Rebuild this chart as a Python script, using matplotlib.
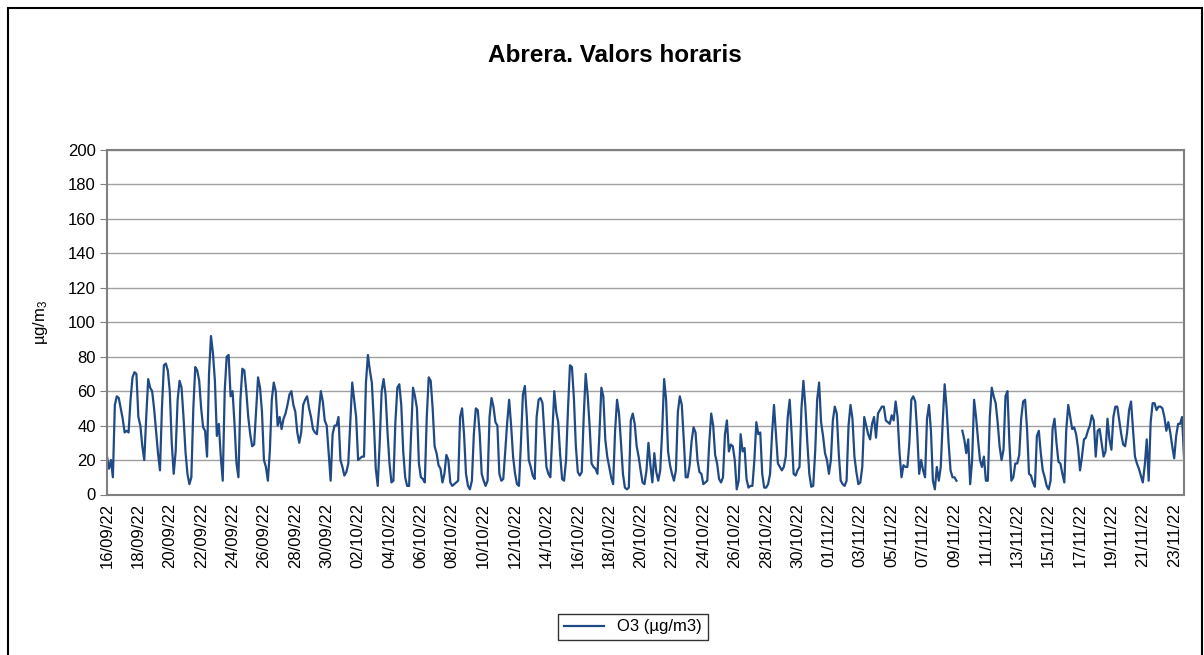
import numpy as np
import pandas as pd
import matplotlib
matplotlib.use('Agg')
import matplotlib.pyplot as plt
from matplotlib.patches import Rectangle

plt.rcParams['font.family'] = ['Liberation Sans', 'DejaVu Sans']
plt.rcParams['mathtext.fontset'] = 'custom'
plt.rcParams['mathtext.rm'] = 'Liberation Sans'
plt.rcParams['mathtext.it'] = 'Liberation Sans'

# valors cada 3 hores (0,3,6,...,21h), llegits del gràfic
o3_sep = [
    22, 15, 20, 10, 52, 57, 56, 50,
    44, 36, 37, 36, 55, 68, 71, 70,
    45, 40, 28, 20, 45, 67, 62, 60,
    50, 37, 24, 14, 50, 75, 76, 72,
    60, 30, 12, 25, 55, 66, 62, 45,
    25, 12, 6, 10, 50, 74, 72, 66,
    50, 39, 37, 22, 70, 92, 82, 66,
    34, 41, 22, 8, 60, 80, 81, 57,
    60, 41, 18, 10, 55, 73, 72, 60,
    45, 35, 28, 29, 48, 68, 62, 48,
    20, 16, 8, 25, 55, 65, 60, 40,
    45, 38, 44, 47, 52, 58, 60, 52,
    48, 36, 30, 36, 52, 55, 57, 50,
    45, 38, 36, 35, 48, 60, 54, 43,
    40, 24, 8, 35, 40, 40, 45, 20,
]
o3_oct = [
    16, 11, 13, 18, 42, 65, 55, 45,
    20, 21, 22, 22, 65, 81, 72, 65,
    43, 15, 5, 30, 60, 67, 58, 36,
    18, 7, 8, 42, 62, 64, 52, 25,
    10, 5, 5, 35, 62, 57, 50, 18,
    10, 9, 7, 45, 68, 66, 50, 28,
    24, 17, 15, 7, 12, 23, 20, 7,
    5, 6, 7, 8, 45, 50, 35, 12,
    5, 3, 8, 35, 50, 49, 35, 12,
    8, 5, 8, 45, 56, 51, 42, 40,
    12, 8, 9, 25, 42, 55, 40, 22,
    12, 6, 5, 30, 58, 63, 45, 20,
    16, 11, 9, 45, 55, 56, 53, 35,
    16, 12, 10, 35, 60, 48, 42, 23,
    9, 8, 20, 50, 75, 74, 56, 28,
    13, 11, 13, 45, 70, 58, 40, 18,
    16, 15, 12, 35, 62, 57, 32, 22,
    16, 10, 6, 37, 55, 47, 30, 12,
    4, 3, 4, 43, 47, 41, 28, 22,
    14, 7, 6, 14, 30, 17, 7, 24,
    13, 8, 14, 37, 67, 55, 25, 17,
    12, 8, 14, 48, 57, 52, 32, 10,
    10, 17, 31, 39, 36, 20, 13, 12,
    6, 7, 8, 30, 47, 40, 23, 18,
    9, 7, 10, 35, 43, 25, 29, 28,
    20, 3, 8, 35, 25, 27, 9, 4,
    5, 5, 20, 42, 35, 36, 12, 4,
    4, 6, 12, 35, 52, 35, 18, 16,
    14, 16, 22, 45, 55, 35, 12, 11,
    14, 16, 50, 66, 51, 30, 12, 4.5,
    5, 25, 55, 65, 42, 34, 24, 20,
]
nan = np.nan
o3_nov = [
    12, 20, 43, 51, 47, 24, 8, 6,
    5, 8, 40, 52, 44, 22, 13, 6,
    7, 16, 45, 40, 35, 32, 41, 45,
    33, 47, 49, 51, 51, 43, 42, 41,
    46, 43, 54, 45, 24, 10, 17, 16,
    16, 30, 55, 57, 54, 36, 12, 20,
    14, 10, 44, 52, 37, 8, 3, 16,
    8, 16, 42, 64, 50, 30, 14, 10,
    10, 8, nan, nan, 37, 32, 24, 32,
    6, 20, 55, 45, 32, 20, 16, 22,
    8, 8, 45, 62, 57, 53, 42, 28,
    20, 26, 57, 60, 30, 8, 10, 18,
    18, 23, 44, 54, 55, 38, 12, 11,
    7, 4.5, 34, 37, 24, 14, 10, 5,
    3, 8, 38, 44, 30, 19, 18, 12,
    7, 38, 52, 45, 38, 39, 35, 27,
    14, 22, 32, 33, 37, 40, 46, 43,
    22, 37, 38, 30, 22, 25, 44, 32,
    26, 45, 51, 51, 43, 35, 29, 28,
    36, 49, 54, 38, 22, 18, 15, 11,
    7, 17, 32, 8, 42, 53, 53, 49,
    51, 51, 50, 45, 37, 42, 36, 28,
    21, 34, 41, 41, 45, 22,
]

start_date = '2022-09-16'
label_dates = pd.date_range(start_date, '2022-11-23', freq='2D')
tick_labels = [d.strftime('%d/%m/%y') for d in label_dates]

o3 = np.array(o3_sep + o3_oct + o3_nov, dtype=float)
x = np.arange(len(o3)) / 8.0   # en dies

fig = plt.figure(figsize=(12.04, 6.55), dpi=100)
ax = fig.add_axes([107/1204, 1 - 494.5/655, (1184-107)/1204, (494.5-150)/655])

line, = ax.plot(x, o3, color='#1f4a86', lw=1.6, label='O3 (µg/m3)')

ax.set_xlim(0, x[-1])
ax.set_ylim(0, 200)
ax.set_yticks(range(0, 201, 20))
ax.set_xticks(np.arange(0, 2*len(tick_labels), 2))
ax.set_xticklabels(tick_labels, rotation=90)
ax.grid(axis='y', color='#a0a0a0', lw=1)
ax.set_axisbelow(True)
for s in ax.spines.values():
    s.set_color('#808080')
    s.set_linewidth(1.5)
ax.tick_params(axis='y', labelsize=12, length=5, color='#808080', pad=3)
ax.tick_params(axis='x', labelsize=12, length=0, pad=6)
ax.set_ylabel('µg/m$_3$', fontsize=12, labelpad=13)

fig.text(615/1204, 1 - 55/655, 'Abrera. Valors horaris', ha='center', va='center',
         fontsize=17.5, fontweight='bold')

leg = fig.legend(handles=[line], loc='center', bbox_to_anchor=(633/1204, 1 - 627/655),
                 fontsize=12, frameon=True, fancybox=False, edgecolor='black',
                 handlelength=2.4, borderpad=0.35)
leg.get_frame().set_linewidth(1)

fig.add_artist(Rectangle((8/1204, -0.1), (1202-8)/1204, 1.1 - 8/655,
                         transform=fig.transFigure, fill=False, ec='black', lw=1.5))

fig.savefig('out.png', dpi=100)
